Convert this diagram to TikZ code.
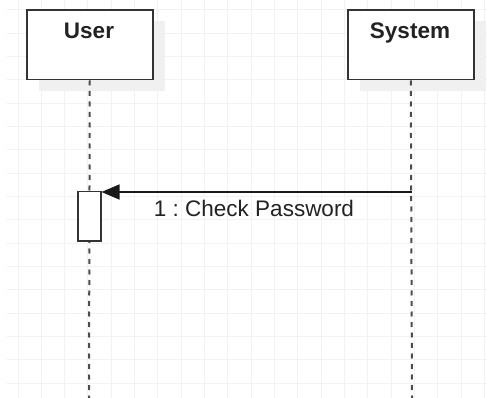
\documentclass[tikz,border=0pt]{standalone}
\usepackage{fontspec}
\setmainfont{Liberation Sans}
\frenchspacing
\usetikzlibrary{arrows.meta}
\definecolor{gridc}{HTML}{F2F2F2}
\definecolor{shadowc}{HTML}{F0F0F0}
\definecolor{linec}{HTML}{333333}
\definecolor{textc}{HTML}{222222}
\begin{document}
\begin{tikzpicture}[x=1pt,y=-1pt,
  actorbox/.style={draw=linec,line width=1.5pt,fill=white,rectangle,minimum width=126pt,minimum height=69.5pt,inner sep=0pt,anchor=north west},
  shadowbox/.style={fill=shadowc,rectangle,minimum width=126pt,minimum height=69.5pt,inner sep=0pt,anchor=north west},
  actbox/.style={draw=linec,line width=1.5pt,fill=white,rectangle,minimum width=23pt,minimum height=49pt,inner sep=0pt,anchor=north west},
  lifeline/.style={draw=black!70,line width=2pt,dash pattern=on 5pt off 5.5pt},
  msgline/.style={draw=black!90,line width=1.5pt,-{Triangle[length=18pt,width=15pt]}},
  headtxt/.style={font=\fontsize{22.5}{27}\selectfont\bfseries,text=textc,inner sep=0pt,anchor=base},
  msgtxt/.style={font=\fontsize{22.5}{27}\selectfont,text=textc,inner sep=0pt,anchor=base}]
\useasboundingbox (0,0) rectangle (487,398);
\fill[white] (0,0) rectangle (487,398);
% grid
\begin{scope}
\clip (7,0) rectangle (487,398);
\foreach \i in {0,...,20} {
  \draw[gridc,line width=1pt] ({18+23.33*\i},0) -- ({18+23.33*\i},398);
}
\foreach \j in {0,...,17} {
  \draw[gridc,line width=1pt] (7,{10+23.33*\j}) -- (487,{10+23.33*\j});
}
\end{scope}
% shadows
\node[shadowbox] (ushadow) at (39,21) {};
\node[shadowbox] (sshadow) at (360,21) {};
% lifelines
\coordinate (uend) at (89,398);
\coordinate (send) at (412,398);
\node[actorbox] (user) at (26,9.5) {};
\node[actorbox] (system) at (347,9.5) {};
\draw[lifeline] (user.south) -- (uend);
\draw[lifeline] (system.south) -- (send);
\node[headtxt] (userlbl) at (89,39) {User};
\node[headtxt] (syslbl) at (410,39) {System};
% activation
\node[actbox] (act) at (77,191) {};
\coordinate (m1) at (412,192);
\draw[msgline] (m1) -- (m1 -| act.east);
\node[msgtxt] (msg) at (254,217) {1 : Check Password};
\end{tikzpicture}
\end{document}
